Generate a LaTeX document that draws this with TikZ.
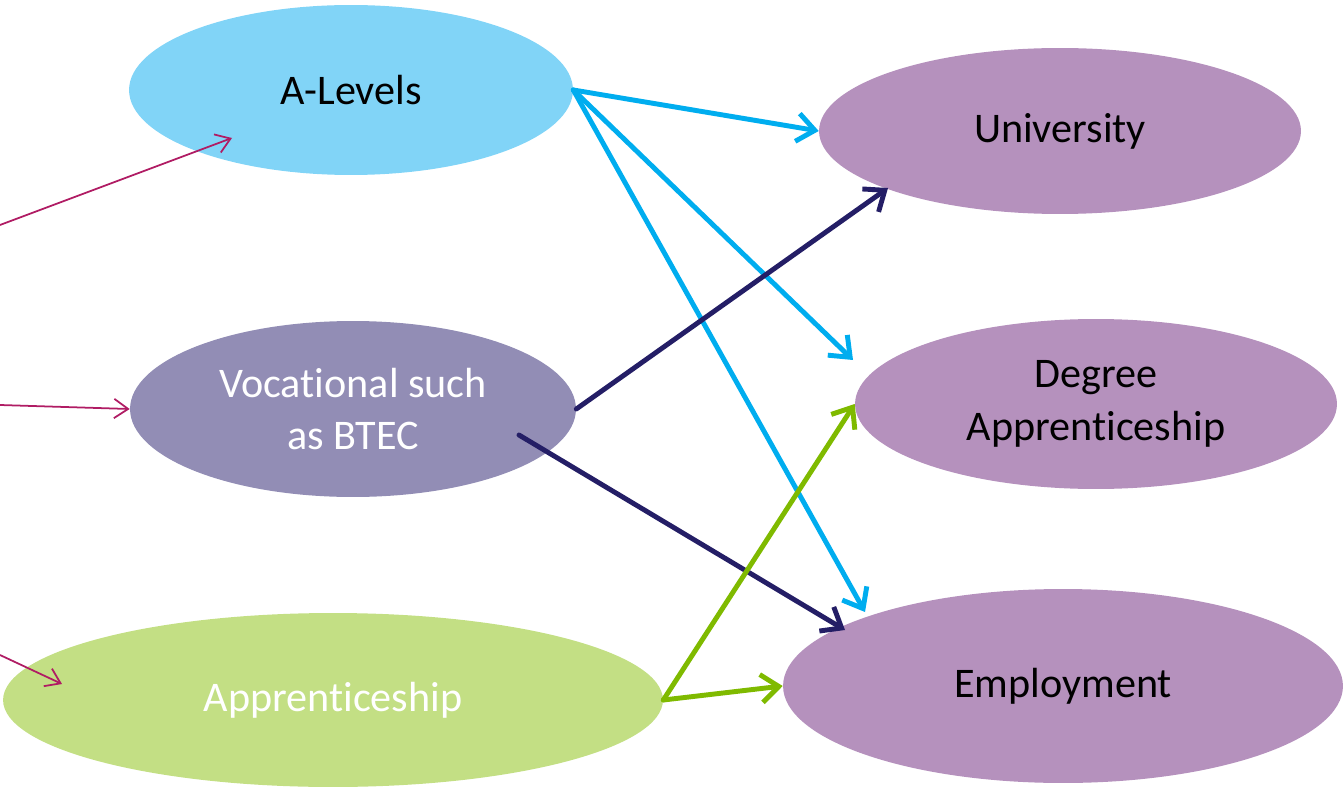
\documentclass[tikz,border=0pt]{standalone}
\usepackage{fontspec}
\setmainfont{Carlito}[Ligatures=NoCommon]
\usetikzlibrary{shapes.geometric,arrows.meta,calc}
\definecolor{alevelblue}{RGB}{129,212,247}
\definecolor{vocpurple}{RGB}{146,141,181}
\definecolor{appgreen}{RGB}{195,223,132}
\definecolor{destpurple}{RGB}{181,145,189}
\definecolor{linkcyan}{RGB}{0,173,239}
\definecolor{linknavy}{RGB}{36,30,102}
\definecolor{linkgreen}{RGB}{127,186,0}
\definecolor{linkmagenta}{RGB}{176,28,100}
\begin{document}
\begin{tikzpicture}[x=0.02cm, y=-0.02cm,
    every node/.style = {shape=ellipse, inner sep=0pt, align=center,
                        font=\fontsize{24}{30}\selectfont},
    route/.style = {line width=2.8pt, line cap=round, -{Straight Barb[length=10pt,width=16pt]}},
    feed/.style = {line width=1pt, line cap=round, linkmagenta, -{Straight Barb[length=8pt,width=11pt]}}]
        \useasboundingbox (0,0) rectangle (1344,790);
        % options after GCSE
        \node[fill=alevelblue, minimum width=8.88cm, minimum height=3.4cm] (alevels) at (351,90) {A-Levels};
        \node[fill=vocpurple, text=white, minimum width=8.92cm, minimum height=3.52cm] (vocational) at (353,409) {Vocational such\\as BTEC};
        \node[fill=appgreen, text=white, minimum width=13.2cm, minimum height=3.48cm] (apprenticeship) at (333,700) {Apprenticeship};
        % destinations
        \node[fill=destpurple, minimum width=9.64cm, minimum height=3.32cm] (university) at (1060,131) {University};
        \node[fill=destpurple, minimum width=9.64cm, minimum height=3.4cm] (degree) at (1096,404) {Degree\\Apprenticeship};
        \node[fill=destpurple, minimum width=11.2cm, minimum height=3.88cm] (employment) at (1063,686) {Employment};
        % incoming
        \coordinate (in1) at (0,225);
        \coordinate (in2) at (0,405);
        \coordinate (in3) at (0,655);
        \draw[feed] (in1) -- ($(alevels.center)+(-119,48)$);
        \draw[feed] (in2) -- (vocational.west);
        \draw[feed] (in3) -- ($(apprenticeship.center)+(-271,-16)$);
        % links
        \draw[route, linkcyan] (alevels.east) -- (university.west);
        \draw[route, linkcyan] (alevels.east) -- ($(degree.center)+(-243,-44)$);
        \draw[route, linkcyan] (alevels.east) -- ($(employment.center)+(-198,-74)$);
        \draw[route, linknavy] (vocational.east) -- ($(university.center)+(-172,57)$);
        \draw[route, linknavy] ($(vocational.center)+(166,26)$) -- ($(employment.center)+(-218,-56)$);
        \draw[route, linkgreen] (apprenticeship.east) -- (degree.west);
        \draw[route, linkgreen] (apprenticeship.east) -- (employment.west);
\end{tikzpicture}
\end{document}
